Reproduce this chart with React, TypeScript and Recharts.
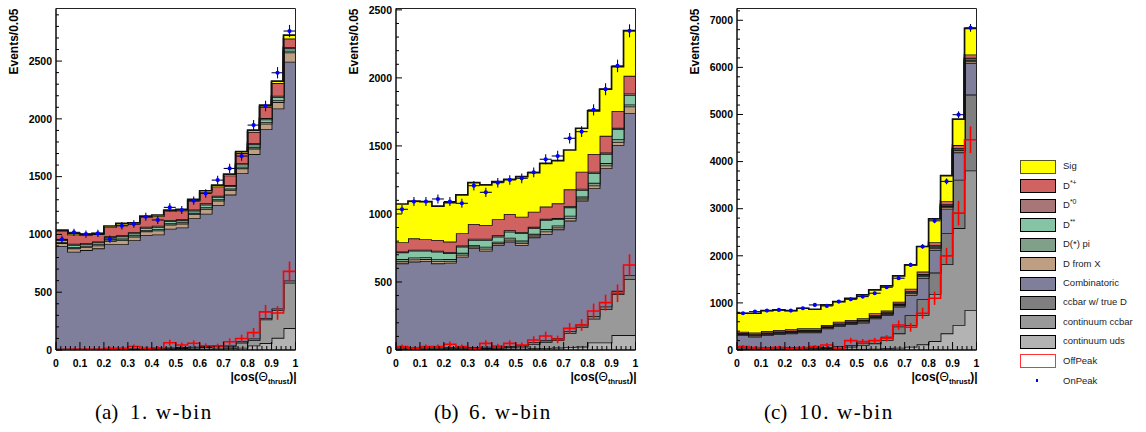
import React from 'react';
import { ComposedChart, Area, Line, Scatter, ErrorBar, XAxis, YAxis, ReferenceArea } from 'recharts';

// bin layout: 20 bins of width 0.05 in |cos(theta_thrust)|
const binEdges = [0, 0.05, 0.1, 0.15, 0.2, 0.25, 0.3, 0.35, 0.4, 0.45, 0.5, 0.55, 0.6, 0.65, 0.7, 0.75, 0.8, 0.85, 0.9, 0.95, 1];
const binCenters = [0.025, 0.075, 0.125, 0.175, 0.225, 0.275, 0.325, 0.375, 0.425, 0.475, 0.525, 0.575, 0.625, 0.675, 0.725, 0.775, 0.825, 0.875, 0.925, 0.975];
const halfBin = 0.025;
const xTickLabels = ['0', '0.1', '0.2', '0.3', '0.4', '0.5', '0.6', '0.7', '0.8', '0.9', '1'];

// --- (a) 1. w-bin ---
const w1Uds = [3, 3, 3, 3, 3, 4, 4, 5, 5, 6, 7, 8, 10, 12, 15, 20, 40, 60, 105, 190];
const w1CcCont = [2, 2, 2, 2, 3, 3, 4, 5, 6, 8, 10, 12, 15, 20, 15, 43, 45, 205, 240, 392];
const w1CcTrue = [5, 5, 5, 5, 5, 6, 6, 6, 7, 7, 8, 8, 9, 10, 10, 12, 15, 10, 15, 20];
const w1Comb = [890, 840, 855, 870, 904, 902, 936, 979, 982, 1029, 1035, 1112, 1146, 1213, 1305, 1455, 1595, 1635, 1730, 1893];
const w1DfromX = [25, 30, 28, 25, 30, 35, 30, 32, 35, 35, 33, 35, 40, 38, 40, 42, 48, 48, 55, 80];
const w1Dpi = [10, 12, 10, 10, 12, 14, 12, 12, 12, 12, 12, 12, 15, 12, 12, 14, 15, 15, 17, 15];
const w1Dss = [15, 18, 15, 15, 18, 20, 17, 18, 18, 18, 17, 18, 22, 20, 20, 20, 22, 22, 25, 20];
const w1Dst0 = [8, 10, 8, 8, 10, 10, 9, 10, 10, 10, 9, 10, 12, 10, 10, 10, 12, 12, 13, 10];
const w1Dstp = [70, 80, 70, 65, 78, 90, 75, 82, 83, 76, 76, 78, 95, 80, 83, 88, 96, 97, 110, 75];
const w1Sig = [10, 10, 7, 7, 10, 12, 8, 10, 10, 10, 10, 10, 14, 12, 12, 12, 15, 15, 17, 30];
const w1Off = [3, 6, 6, 6, 15, 15, 30, 15, 20, 63, 43, 58, 37, 35, 72, 100, 150, 330, 320, 680];
const w1OffErr = [6, 8, 8, 8, 13, 13, 18, 13, 15, 26, 22, 25, 20, 20, 28, 33, 41, 60, 59, 86];
const w1On = [957, 1018, 1003, 1009, 960, 1075, 1090, 1153, 1125, 1234, 1211, 1292, 1355, 1470, 1571, 1678, 1946, 2111, 2399, 2760];
const w1OnErr = [31, 32, 32, 32, 31, 33, 33, 34, 34, 35, 35, 36, 37, 38, 40, 41, 44, 46, 49, 53];

// --- (b) 6. w-bin ---
const w6Uds = [5, 5, 5, 5, 5, 5, 6, 6, 7, 8, 10, 12, 15, 18, 22, 25, 55, 55, 110, 110];
const w6CcCont = [5, 5, 5, 5, 7, 7, 7, 8, 9, 12, 15, 33, 45, 57, 103, 145, 175, 245, 300, 410];
const w6CcTrue = [8, 8, 8, 8, 8, 9, 9, 10, 10, 10, 10, 12, 12, 14, 15, 18, 20, 20, 25, 30];
const w6Comb = [619, 632, 636, 619, 622, 665, 726, 706, 746, 767, 737, 771, 781, 798, 811, 910, 939, 1016, 1072, 1190];
const w6DfromX = [15, 15, 14, 16, 13, 14, 12, 15, 12, 14, 16, 13, 18, 14, 18, 15, 20, 20, 22, 50];
const w6Dpi = [16, 15, 14, 16, 13, 14, 12, 14, 12, 14, 16, 13, 18, 14, 18, 15, 20, 18, 20, 15];
const w6Dss = [50, 50, 48, 54, 43, 46, 37, 50, 37, 45, 54, 41, 67, 46, 62, 48, 70, 67, 74, 70];
const w6Dst0 = [6, 7, 7, 7, 7, 8, 9, 9, 10, 10, 10, 10, 8, 9, 10, 10, 11, 10, 10, 11];
const w6Dstp = [68, 84, 77, 79, 79, 90, 108, 101, 118, 120, 112, 112, 90, 108, 122, 125, 131, 123, 124, 129];
const w6Sig = [281, 274, 276, 249, 286, 282, 304, 294, 277, 255, 295, 287, 318, 314, 289, 319, 316, 343, 326, 333];
const w6Off = [25, 12, 25, 25, 42, 25, 7, 49, 29, 49, 37, 74, 103, 78, 159, 184, 287, 348, 417, 625];
const w6OffErr = [16, 11, 16, 16, 20, 16, 8, 22, 17, 22, 19, 27, 32, 28, 40, 43, 54, 59, 65, 79];
const w6On = [1034, 1091, 1091, 1110, 1091, 1078, 1208, 1159, 1230, 1250, 1262, 1306, 1402, 1426, 1556, 1605, 1765, 1917, 2088, 2346];
const w6OnErr = [32, 33, 33, 33, 33, 33, 35, 34, 35, 35, 36, 36, 37, 38, 39, 40, 42, 44, 46, 48];

// --- (c) 10. w-bin ---
const w10Uds = [10, 10, 10, 10, 10, 12, 12, 12, 13, 14, 21, 28, 35, 50, 71, 120, 190, 355, 532, 851];
const w10CcCont = [20, 20, 20, 20, 22, 20, 23, 28, 37, 57, 85, 114, 178, 304, 460, 624, 1001, 1467, 2056, 2962];
const w10CcTrue = [41, 35, 30, 30, 25, 25, 22, 24, 30, 35, 50, 71, 70, 146, 209, 336, 453, 659, 1027, 1609];
const w10Comb = [248, 218, 259, 280, 297, 319, 319, 397, 430, 447, 425, 460, 461, 421, 429, 450, 482, 519, 581, 674];
const w10DfromX = [18, 21, 21, 21, 21, 21, 21, 18, 23, 21, 23, 27, 23, 27, 33, 33, 41, 40, 39, 44];
const w10Dpi = [7, 9, 9, 9, 9, 9, 9, 7, 9, 9, 9, 10, 9, 10, 13, 14, 16, 16, 15, 18];
const w10Dss = [11, 13, 13, 13, 13, 13, 13, 10, 14, 13, 14, 16, 14, 16, 20, 20, 25, 24, 23, 26];
const w10Dst0 = [7, 9, 8, 8, 8, 8, 8, 7, 9, 8, 9, 11, 9, 11, 13, 14, 16, 16, 15, 18];
const w10Dstp = [28, 34, 34, 34, 34, 34, 34, 28, 37, 34, 37, 43, 37, 42, 52, 54, 66, 64, 62, 71];
const w10Sig = [390, 411, 432, 425, 397, 425, 404, 426, 426, 460, 497, 496, 525, 546, 507, 532, 495, 540, 550, 553];
const w10Off = [71, 50, 35, 57, 35, 50, 71, 106, 20, 198, 177, 198, 248, 531, 482, 780, 1099, 1999, 2906, 4465];
const w10OffErr = [36, 30, 25, 32, 25, 30, 36, 44, 19, 60, 56, 60, 67, 98, 93, 118, 141, 170, 260, 283];
const w10On = [780, 815, 836, 850, 836, 886, 957, 936, 1028, 1077, 1134, 1205, 1332, 1524, 1807, 2197, 2743, 3579, 4996, 6839];
const w10OnErr = [28, 29, 29, 29, 29, 30, 31, 31, 32, 33, 34, 35, 36, 39, 43, 47, 52, 60, 71, 83];

// stack order, bottom to top
const stack = [
  { key: 'uds', label: 'continuum uds', color: '#b3b3b3' },
  { key: 'ccCont', label: 'continuum ccbar', color: '#999999' },
  { key: 'ccTrue', label: 'ccbar w/ true D', color: '#7f7f7f' },
  { key: 'comb', label: 'Combinatoric', color: '#7f7f9c' },
  { key: 'dFromX', label: 'D from X', color: '#bf9f82' },
  { key: 'dPi', label: 'D(*) pi', color: '#80a08a' },
  { key: 'dss', label: 'D**', color: '#85c4a4' },
  { key: 'dst0', label: 'D*0', color: '#a87676' },
  { key: 'dstp', label: 'D*+', color: '#d06262' },
  { key: 'sig', label: 'Sig', color: '#ffff00' },
];

const panels = [
  {
    id: 'a', left: 56, right: 295.5, yMax: 2955, yMajor: 500, yMinor: 100, yTitleX: 17.5,
    comps: { uds: w1Uds, ccCont: w1CcCont, ccTrue: w1CcTrue, comb: w1Comb, dFromX: w1DfromX, dPi: w1Dpi, dss: w1Dss, dst0: w1Dst0, dstp: w1Dstp, sig: w1Sig },
    off: w1Off, offErr: w1OffErr, on: w1On, onErr: w1OnErr,
    tag: '(a)', tagX: 95, caption: '1. w-bin', capX: 130,
  },
  {
    id: 'b', left: 396, right: 635.5, yMax: 2510, yMajor: 500, yMinor: 100, yTitleX: 357.5,
    comps: { uds: w6Uds, ccCont: w6CcCont, ccTrue: w6CcTrue, comb: w6Comb, dFromX: w6DfromX, dPi: w6Dpi, dss: w6Dss, dst0: w6Dst0, dstp: w6Dstp, sig: w6Sig },
    off: w6Off, offErr: w6OffErr, on: w6On, onErr: w6OnErr,
    tag: '(b)', tagX: 434, caption: '6. w-bin', capX: 469,
  },
  {
    id: 'c', left: 737, right: 976.5, yMax: 7250, yMajor: 1000, yMinor: 200, yTitleX: 698.5,
    comps: { uds: w10Uds, ccCont: w10CcCont, ccTrue: w10CcTrue, comb: w10Comb, dFromX: w10DfromX, dPi: w10Dpi, dss: w10Dss, dst0: w10Dst0, dstp: w10Dstp, sig: w10Sig },
    off: w10Off, offErr: w10OffErr, on: w10On, onErr: w10OnErr,
    tag: '(c)', tagX: 764, caption: '10. w-bin', capX: 799,
  },
];

const PLOT_TOP = 8.5;
const PLOT_BOTTOM = 350;
const Y_AXIS_W = 50;
const CHART_H = 400;
const FONT = '"Liberation Sans", Arial, sans-serif';

const Histo = ({ p }: { p: any }) => {
  // step histograms: one row per bin edge, last bin repeated to close the step at x=1
  const edgeRows = binEdges.map((x, i) => {
    const k = Math.min(i, binCenters.length - 1);
    const row: any = { x, off: p.off[k] };
    stack.forEach((s) => { row[s.key] = p.comps[s.key][k]; });
    return row;
  });
  const onRows = binCenters.map((x, i) => ({ x, on: p.on[i], onErr: p.onErr[i], ex: halfBin }));
  const offRows = binCenters.map((x, i) => ({ x, off: p.off[i], offErr: p.offErr[i] }));

  const yTicks: number[] = [];
  for (let v = 0; v <= p.yMax; v += p.yMinor) yTicks.push(v);
  const xTicks: number[] = [];
  for (let i = 0; i <= 50; i++) xTicks.push(i / 50);

  const renderYTick = (props: any) => {
    const { x, y, payload } = props;
    const v = payload.value;
    const major = v % p.yMajor === 0;
    return (
      <g>
        <line x1={x} x2={x + (major ? 6 : 3)} y1={y} y2={y} stroke="#000" strokeWidth={1} />
        {major && (
          <text x={x - 4} y={y + 3.8} textAnchor="end" fontFamily={FONT} fontWeight="bold" fontSize={10.5} fill="#000">
            {v}
          </text>
        )}
      </g>
    );
  };
  const renderXTick = (props: any) => {
    const { x, y, payload } = props;
    const n = Math.round(payload.value * 50);
    const major = n % 5 === 0;
    return (
      <g>
        <line x1={x} x2={x} y1={y} y2={y - (major ? 8 : 4)} stroke="#000" strokeWidth={1} />
        {major && (
          <text x={x} y={y + 16.5} textAnchor="middle" fontFamily={FONT} fontWeight="bold" fontSize={10.5} fill="#000">
            {xTickLabels[n / 5]}
          </text>
        )}
      </g>
    );
  };

  const width = p.right - p.left + Y_AXIS_W + 6;
  return (
    <div style={{ position: 'absolute', left: p.left - Y_AXIS_W, top: 0 }}>
      <ComposedChart
        width={width}
        height={CHART_H}
        data={edgeRows}
        margin={{ top: PLOT_TOP, right: 6, bottom: 0, left: 0 }}
      >
        <XAxis
          dataKey="x"
          type="number"
          domain={[0, 1]}
          ticks={xTicks}
          interval={0}
          allowDataOverflow
          height={CHART_H - PLOT_BOTTOM}
          tickSize={0}
          tickMargin={0}
          tickLine={false}
          axisLine={{ stroke: '#000', strokeWidth: 1 }}
          tick={renderXTick}
        />
        <YAxis
          type="number"
          domain={[0, p.yMax]}
          ticks={yTicks}
          interval={0}
          allowDataOverflow
          width={Y_AXIS_W}
          tickSize={0}
          tickMargin={0}
          tickLine={false}
          axisLine={{ stroke: '#000', strokeWidth: 1 }}
          tick={renderYTick}
        />
        {stack.map((s) => (
          <Area
            key={s.key}
            dataKey={s.key}
            stackId="mc"
            type="stepAfter"
            fill={s.color}
            fillOpacity={1}
            stroke="#111"
            strokeWidth={1.7}
            dot={false}
            activeDot={false}
            isAnimationActive={false}
          />
        ))}
        <Line
          dataKey="off"
          type="stepAfter"
          stroke="#ff0000"
          strokeWidth={1.6}
          dot={false}
          activeDot={false}
          isAnimationActive={false}
        />
        <Scatter data={offRows} dataKey="off" shape={() => <g />} isAnimationActive={false}>
          <ErrorBar dataKey="offErr" direction="y" width={0} stroke="#ff0000" strokeWidth={1.6} />
        </Scatter>
        <Scatter
          data={onRows}
          dataKey="on"
          fill="#0000ff"
          shape={(sp: any) => <circle cx={sp.cx} cy={sp.cy} r={2.1} fill="#0000ff" />}
          isAnimationActive={false}
        >
          <ErrorBar dataKey="ex" direction="x" width={0} stroke="#0a0a3a" strokeWidth={1.1} />
          <ErrorBar dataKey="onErr" direction="y" width={0} stroke="#0a0a3a" strokeWidth={1.1} />
        </Scatter>
        <ReferenceArea x1={0} x2={1} y1={0} y2={p.yMax} fill="none" stroke="#222" strokeWidth={1} ifOverflow="visible" />
      </ComposedChart>
    </div>
  );
};

const legendRows = [
  { label: 'Sig', fill: '#ffff00', border: '#555522' },
  { label: 'D*+', fill: '#d06262', border: '#000' },
  { label: 'D*0', fill: '#a87676', border: '#000' },
  { label: 'D**', fill: '#85c4a4', border: '#000' },
  { label: 'D(*) pi', fill: '#80a08a', border: '#000' },
  { label: 'D from X', fill: '#bf9f82', border: '#000' },
  { label: 'Combinatoric', fill: '#7f7f9c', border: '#000' },
  { label: 'ccbar w/ true D', fill: '#7f7f7f', border: '#000' },
  { label: 'continuum ccbar', fill: '#999999', border: '#000' },
  { label: 'continuum uds', fill: '#b3b3b3', border: '#000' },
  { label: 'OffPeak', fill: '#ffffff', border: '#ff3333' },
];

const legendLabel = (label: string) => {
  if (label === 'D*+' || label === 'D*0' || label === 'D**') {
    return (
      <span>
        D<sup style={{ fontSize: 7, verticalAlign: 'top', position: 'relative', top: -3 }}>{label.slice(1)}</sup>
      </span>
    );
  }
  return label;
};

const Legend = () => (
  <>
    {legendRows.map((r, i) => {
      const cy = 166.3 + i * 19.45;
      return (
        <React.Fragment key={r.label}>
          <div
            style={{
              position: 'absolute', left: 1020, top: cy - 6.5, width: 34, height: 12,
              background: r.fill, border: `1px solid ${r.border}`,
            }}
          />
          <div style={{ position: 'absolute', left: 1063, top: cy - 7, fontFamily: FONT, fontSize: 9.5, lineHeight: '14px', color: '#222' }}>
            {legendLabel(r.label)}
          </div>
        </React.Fragment>
      );
    })}
    <div style={{ position: 'absolute', left: 1036, top: 379, width: 2, height: 3, background: '#0000ff' }} />
    <div style={{ position: 'absolute', left: 1063, top: 373.5, fontFamily: FONT, fontSize: 9.5, lineHeight: '14px', color: '#222' }}>
      OnPeak
    </div>
  </>
);

const Titles = () => (
  <svg width={1146} height={432} style={{ position: 'absolute', left: 0, top: 0, pointerEvents: 'none' }}>
    {panels.map((p) => (
      <g key={p.id}>
        <text
          transform={`translate(${p.yTitleX}, ${PLOT_TOP}) rotate(-90)`}
          textAnchor="end"
          fontFamily={FONT}
          fontWeight="bold"
          fontSize={12}
          fill="#000"
        >
          Events/0.05
        </text>
        <text x={p.right + 1} y={381} textAnchor="end" fontFamily={FONT} fontWeight="bold" fontSize={12} fill="#000">
          |cos(<tspan fontWeight="normal">Θ</tspan>
          <tspan fontSize={7.5} dy={3}>thrust</tspan>
          <tspan dy={-3}>)|</tspan>
        </text>
      </g>
    ))}
  </svg>
);

const Captions = () => (
  <>
    {panels.map((p) => (
      <React.Fragment key={p.id}>
        <div style={{ position: 'absolute', left: p.tagX, top: 401.5, fontFamily: '"Liberation Serif", serif', fontSize: 21, lineHeight: '21px', color: '#000' }}>
          {p.tag}
        </div>
        <div style={{ position: 'absolute', left: p.capX, top: 401.5, fontFamily: '"Liberation Serif", serif', fontSize: 21, lineHeight: '21px', letterSpacing: 1.6, color: '#000' }}>
          {p.caption}
        </div>
      </React.Fragment>
    ))}
  </>
);

export default function App() {
  return (
    <div style={{ position: 'absolute', left: 0, top: 0, width: 1146, height: 432, background: '#fff', overflow: 'hidden' }}>
      {panels.map((p) => (
        <Histo key={p.id} p={p} />
      ))}
      <Titles />
      <Legend />
      <Captions />
    </div>
  );
}
